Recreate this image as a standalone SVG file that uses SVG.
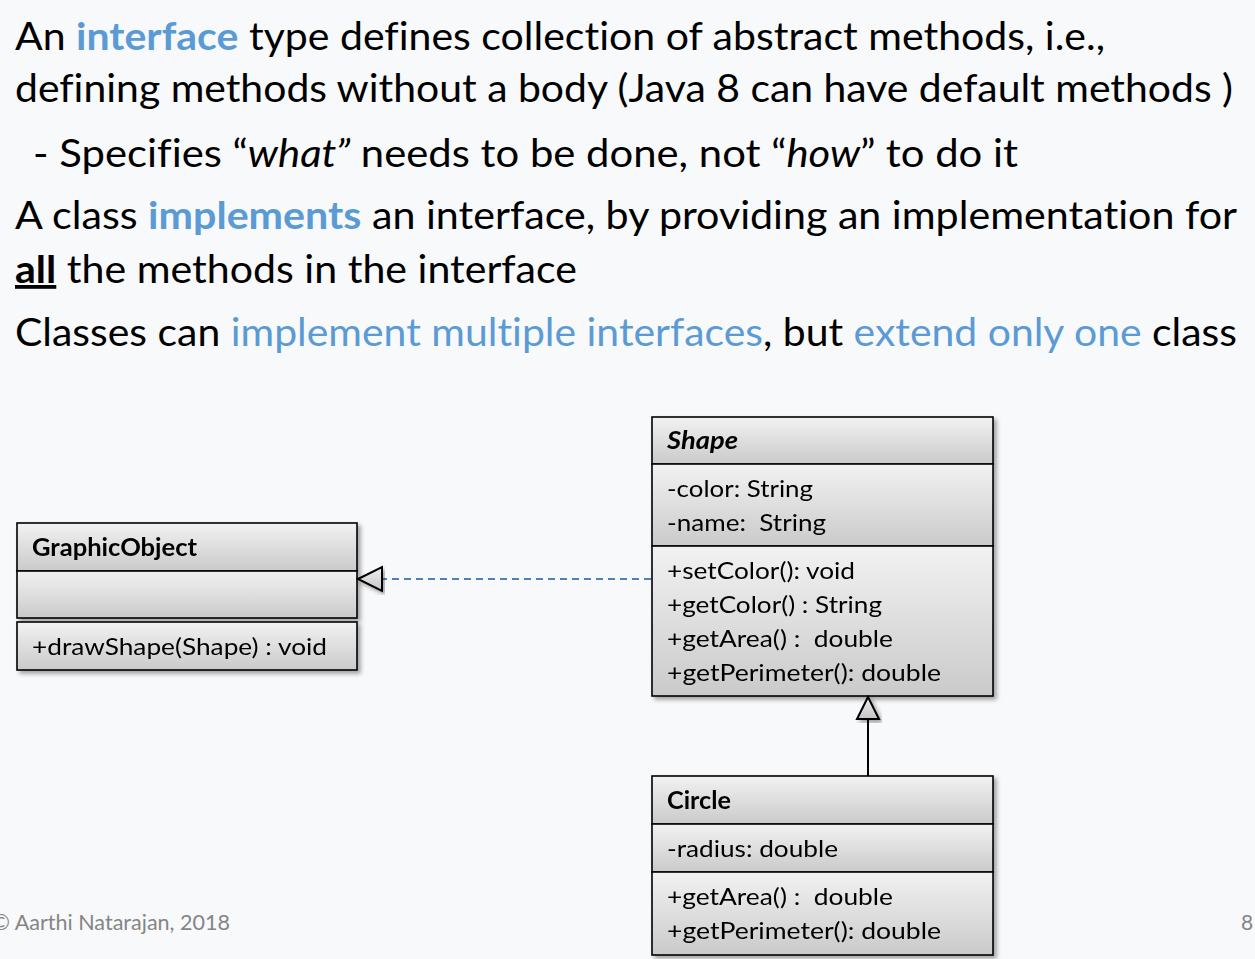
<svg xmlns="http://www.w3.org/2000/svg" width="1255" height="959" viewBox="0 0 1255 959">
  <defs>
    <style>
      text { font-variant-ligatures: none; }
      .body { font-family: Lato, "Open Sans", "Liberation Sans", sans-serif; font-size: 38px; fill: #000; }
      .hl { fill: #5b9bd5; }
      .uml { font-family: Lato, "Open Sans", "Liberation Sans", sans-serif; font-size: 24px; fill: #000; white-space: pre; }
      .title { font-weight: bold; }
      .box { fill: url(#compartment); stroke: #000; stroke-width: 1.6; }
      .foot { font-family: Lato, "Open Sans", "Liberation Sans", sans-serif; font-size: 21px; fill: #858585; }
    </style>
    <linearGradient id="compartment" x1="0" y1="0" x2="0" y2="1">
      <stop offset="0" stop-color="#f2f2f2"/>
      <stop offset="1" stop-color="#cacaca"/>
    </linearGradient>
    <linearGradient id="headFill" x1="0" y1="0" x2="0" y2="1">
      <stop offset="0" stop-color="#f0f0f0"/>
      <stop offset="1" stop-color="#c4c4c4"/>
    </linearGradient>
    <filter id="shadow" x="-5%" y="-5%" width="115%" height="120%">
      <feDropShadow dx="3" dy="3" stdDeviation="2" flood-color="#000" flood-opacity="0.35"/>
    </filter>
  </defs>

  <rect width="1255" height="959" fill="#f8f9fb"/>

  <!-- slide bullet text -->
  <g id="bullets">
    <text class="body" x="15" y="50" textLength="1090" lengthAdjust="spacingAndGlyphs">An <tspan class="hl" font-weight="bold">interface</tspan> type defines collection of abstract methods, i.e.,</text>
    <text class="body" x="15" y="102" textLength="1218" lengthAdjust="spacingAndGlyphs">defining methods without a body (Java 8 can have default methods )</text>
    <text class="body" x="33" y="167" textLength="985" lengthAdjust="spacingAndGlyphs">- Specifies “<tspan font-style="italic">what”</tspan> needs to be done, not “<tspan font-style="italic">how</tspan>” to do it</text>
    <text class="body" x="15" y="229" textLength="1222" lengthAdjust="spacingAndGlyphs">A class <tspan class="hl" font-weight="bold">implements</tspan> an interface, by providing an implementation for</text>
    <text class="body" x="15" y="283" textLength="562" lengthAdjust="spacingAndGlyphs"><tspan font-weight="bold" text-decoration="underline">all</tspan> the methods in the interface</text>
    <text class="body" x="15" y="346" textLength="1222" lengthAdjust="spacingAndGlyphs">Classes can <tspan class="hl">implement multiple interfaces</tspan>, but <tspan class="hl">extend only one</tspan> class</text>
  </g>

  <!-- GraphicObject class -->
  <g id="graphic-object" filter="url(#shadow)">
    <rect class="box" x="17" y="523" width="340" height="48"/>
    <rect class="box" x="17" y="571" width="340" height="47"/>
    <rect class="box" x="17" y="622" width="340" height="48"/>
    <text class="uml title" x="32" y="556" textLength="165" lengthAdjust="spacingAndGlyphs">GraphicObject</text>
    <text class="uml" x="32" y="655" textLength="295" lengthAdjust="spacingAndGlyphs">+drawShape(Shape) : void</text>
  </g>

  <!-- Shape class -->
  <g id="shape" filter="url(#shadow)">
    <rect class="box" x="652" y="417" width="341" height="47"/>
    <rect class="box" x="652" y="464" width="341" height="82"/>
    <rect class="box" x="652" y="546" width="341" height="150"/>
    <text class="uml title" x="667" y="449" font-style="italic" textLength="71" lengthAdjust="spacingAndGlyphs">Shape</text>
    <text class="uml" x="667" y="497" textLength="146" lengthAdjust="spacingAndGlyphs">-color: String</text>
    <text class="uml" x="667" y="531" textLength="159" lengthAdjust="spacingAndGlyphs">-name:  String</text>
    <text class="uml" x="667" y="579" textLength="188" lengthAdjust="spacingAndGlyphs">+setColor(): void</text>
    <text class="uml" x="667" y="613" textLength="215" lengthAdjust="spacingAndGlyphs">+getColor() : String</text>
    <text class="uml" x="667" y="647" textLength="226" lengthAdjust="spacingAndGlyphs">+getArea() :  double</text>
    <text class="uml" x="667" y="681" textLength="274" lengthAdjust="spacingAndGlyphs">+getPerimeter(): double</text>
  </g>

  <!-- Circle class -->
  <g id="circle" filter="url(#shadow)">
    <rect class="box" x="652" y="776" width="341" height="48"/>
    <rect class="box" x="652" y="824" width="341" height="48"/>
    <rect class="box" x="652" y="872" width="341" height="83"/>
    <text class="uml title" x="667" y="809" textLength="64" lengthAdjust="spacingAndGlyphs">Circle</text>
    <text class="uml" x="667" y="857" textLength="171" lengthAdjust="spacingAndGlyphs">-radius: double</text>
    <text class="uml" x="667" y="905" textLength="226" lengthAdjust="spacingAndGlyphs">+getArea() :  double</text>
    <text class="uml" x="667" y="939" textLength="274" lengthAdjust="spacingAndGlyphs">+getPerimeter(): double</text>
  </g>

  <!-- relationships -->
  <g id="connectors">
    <!-- realization: Shape implements GraphicObject -->
    <line x1="651" y1="579" x2="382" y2="579" stroke="#4f81bd" stroke-width="2" stroke-dasharray="7 5"/>
    <polygon points="358,579 382,567 382,591" fill="url(#headFill)" stroke="#000" stroke-width="2" stroke-linejoin="miter" filter="url(#shadow)"/>
    <!-- generalization: Circle extends Shape -->
    <line x1="868" y1="776" x2="868" y2="719" stroke="#000" stroke-width="2"/>
    <polygon points="868,697 857,719 879,719" fill="url(#headFill)" stroke="#000" stroke-width="2" filter="url(#shadow)"/>
  </g>

  <!-- footer -->
  <g id="footer">
    <text class="foot" x="-8" y="930" textLength="238" lengthAdjust="spacingAndGlyphs">© Aarthi Natarajan, 2018</text>
    <text class="foot" x="1241" y="930">8</text>
  </g>
</svg>
